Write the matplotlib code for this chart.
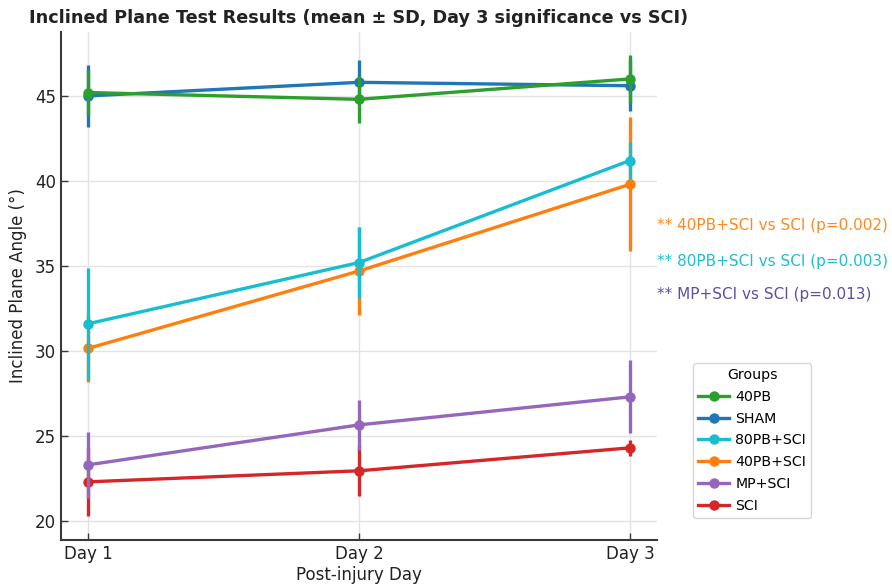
import matplotlib
matplotlib.use("Agg")
import matplotlib.pyplot as plt
from matplotlib.lines import Line2D

days = ["Day 1", "Day 2", "Day 3"]
groups = ["40PB", "SHAM", "80PB+SCI", "40PB+SCI", "MP+SCI", "SCI"]
colors = ["#2ca02c", "#1f77b4", "#17becf", "#ff7f0e", "#9467bd", "#d62728"]

mean_40pb = [45.2, 44.8, 46.0]
sd_40pb = [1.35, 1.4, 1.4]
mean_sham = [45.0, 45.8, 45.6]
sd_sham = [1.8, 1.3, 1.5]
mean_80pb_sci = [31.6, 35.2, 41.2]
sd_80pb_sci = [3.3, 2.1, 1.1]
mean_40pb_sci = [30.15, 34.7, 39.8]
sd_40pb_sci = [2.0, 2.6, 3.95]
mean_mp_sci = [23.3, 25.65, 27.3]
sd_mp_sci = [1.95, 1.45, 2.15]
mean_sci = [22.3, 22.95, 24.3]
sd_sci = [2.0, 1.5, 0.45]

means = [mean_40pb, mean_sham, mean_80pb_sci, mean_40pb_sci, mean_mp_sci, mean_sci]
sds = [sd_40pb, sd_sham, sd_80pb_sci, sd_40pb_sci, sd_mp_sci, sd_sci]

sig_labels = ["** 40PB+SCI vs SCI (p=0.002)",
              "** 80PB+SCI vs SCI (p=0.003)",
              "** MP+SCI vs SCI (p=0.013)"]
sig_colors = ["#ff8a25", "#1fbfcf", "#5e4fa2"]
sig_y = [37.4, 35.25, 33.3]

fig = plt.figure(figsize=(8.92, 5.87), dpi=100)
ax = fig.add_axes([61 / 892, 47 / 587, 596 / 892, 508 / 587])

x = list(range(len(days)))
n = len(groups)
# draw from the bottom of the legend upward so earlier groups sit on top
for i in reversed(range(n)):
    z = 3 + (n - i)
    ax.errorbar(x, means[i], yerr=sds[i], fmt="none", ecolor=colors[i],
                elinewidth=2.4, capsize=0, zorder=z)
    ax.plot(x, means[i], color=colors[i], lw=2.4, marker="o",
            markersize=6.5, zorder=z + 0.5)

ax.set_xlim(-0.1, 2.1)
ax.set_ylim(18.88, 48.76)
ax.set_xticks(x)
ax.set_xticklabels(days)
ax.set_yticks([20, 25, 30, 35, 40, 45])

ax.grid(True, color="#e3e3e3", lw=1.0, zorder=0)
ax.set_axisbelow(True)
for side in ("top", "right"):
    ax.spines[side].set_visible(False)
for side in ("left", "bottom"):
    ax.spines[side].set_color("#3a3a3a")
    ax.spines[side].set_linewidth(1.5)
ax.tick_params(axis="both", direction="in", length=5, width=1,
               colors="#3a3a3a", labelsize=12, labelcolor="#222222")

ax.set_xlabel("Post-injury Day", fontsize=12, color="#222222", labelpad=2)
ax.set_ylabel("Inclined Plane Angle (°)", fontsize=12, color="#222222", labelpad=6)
ax.set_title("Inclined Plane Test Results (mean ± SD, Day 3 significance vs SCI)",
             fontsize=12.7, fontweight="bold", color="#222222", pad=6.5)

for label, c, yv in zip(sig_labels, sig_colors, sig_y):
    ax.text(2.1, yv, label, color=c, fontsize=11, ha="left", va="center",
            clip_on=False)

handles = [Line2D([0], [0], color=colors[i], lw=2.4, marker="o", markersize=6.5)
           for i in range(n)]
leg = fig.legend(handles, groups, title="Groups", loc="upper left",
                 bbox_to_anchor=(693 / 892, 1 - 363 / 587), borderaxespad=0,
                 fontsize=10.2, title_fontsize=10.2, handlelength=2.2,
                 handletextpad=0.45, borderpad=0.35, labelspacing=0.55,
                 frameon=True, fancybox=True, edgecolor="#cccccc")
leg.get_frame().set_linewidth(1.0)

fig.savefig("out.png", dpi=100)
